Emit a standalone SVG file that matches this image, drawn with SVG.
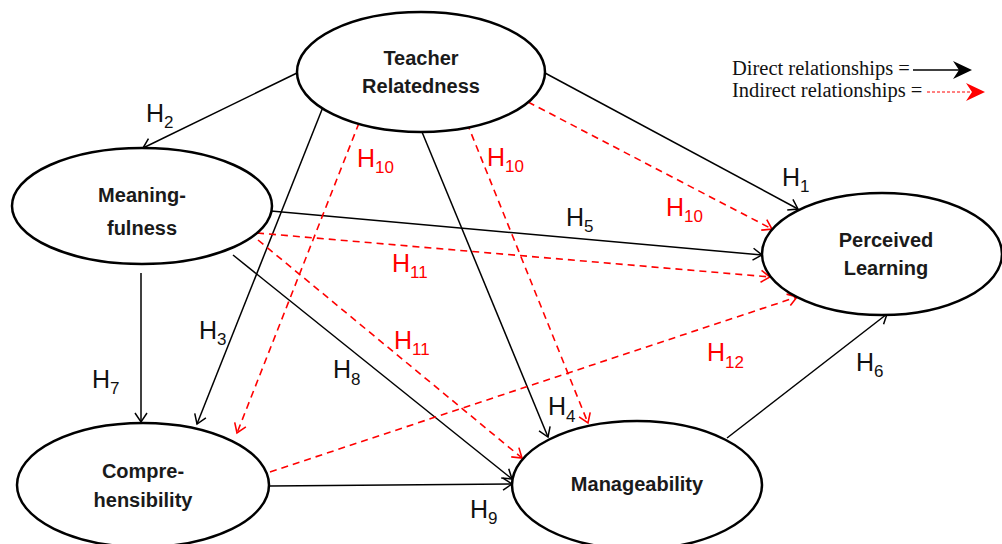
<svg xmlns="http://www.w3.org/2000/svg" width="1002" height="544" viewBox="0 0 1002 544">
<style>
.node ellipse{fill:#fff;stroke:#000;stroke-width:2.5}
.nl{font-family:"Liberation Sans",Arial,sans-serif;font-weight:bold;font-size:20px;fill:#1a1a1a;text-anchor:middle}
.d{stroke:#000;stroke-width:1.5;fill:none;marker-end:url(#ab)}
.i{stroke:#f00;stroke-width:1.6;fill:none;stroke-dasharray:7 5;marker-end:url(#ar)}
.h{font-family:"Liberation Sans",Arial,sans-serif;font-size:25px;fill:#111}
.hr{fill:#f00}
.s{font-size:17px}
.lg{font-family:"Liberation Serif","Times New Roman",serif;font-size:20.5px;fill:#111}
</style>
<defs>
<marker id="ab" markerUnits="userSpaceOnUse" markerWidth="14" markerHeight="14" viewBox="0 0 14 14" refX="11" refY="7" orient="auto">
<path d="M2,1 L11,7 L2,13" fill="none" stroke="#000" stroke-width="1.5" stroke-dasharray="none"/>
</marker>
<marker id="ar" markerUnits="userSpaceOnUse" markerWidth="14" markerHeight="14" viewBox="0 0 14 14" refX="11" refY="7" orient="auto">
<path d="M2,1 L11,7 L2,13" fill="none" stroke="#f00" stroke-width="1.6" stroke-dasharray="none"/>
</marker>
</defs>
<rect width="1002" height="544" fill="#fff"/>

<g id="connectors">
<line class="d" x1="297" y1="73" x2="143" y2="148"/>
<line class="d" x1="545" y1="73" x2="798" y2="209"/>
<line class="d" x1="271" y1="211" x2="762" y2="255"/>
<line class="d" x1="323" y1="107" x2="197" y2="424"/>
<line class="d" x1="422" y1="132" x2="548" y2="437"/>
<line class="d" x1="141" y1="273" x2="141" y2="422"/>
<line class="d" x1="233" y1="255" x2="512" y2="479"/>
<line class="d" x1="270" y1="486" x2="512" y2="484"/>
<line class="d" x1="727" y1="438" x2="887" y2="314"/>
<line class="i" x1="359" y1="123" x2="237" y2="433"/>
<line class="i" x1="467" y1="123" x2="588" y2="423"/>
<line class="i" x1="528" y1="102" x2="772" y2="229"/>
<line class="i" x1="257" y1="233" x2="770" y2="277"/>
<line class="i" x1="258" y1="240" x2="522" y2="458"/>
<line class="i" x1="270" y1="472" x2="797" y2="297"/>
</g>

<g id="node-teacher" class="node">
<ellipse cx="421" cy="72" rx="124" ry="60"/>
<text class="nl" x="421" y="65">Teacher</text>
<text class="nl" x="421" y="93">Relatedness</text>
</g>
<g id="node-meaning" class="node">
<ellipse cx="142" cy="206" rx="130" ry="58"/>
<text class="nl" x="142" y="202">Meaning-</text>
<text class="nl" x="142" y="235">fulness</text>
</g>
<g id="node-perceived" class="node">
<ellipse cx="882" cy="254" rx="120" ry="61"/>
<text class="nl" x="886" y="247">Perceived</text>
<text class="nl" x="886" y="275">Learning</text>
</g>
<g id="node-comp" class="node">
<ellipse cx="143" cy="485" rx="126" ry="62"/>
<text class="nl" x="143" y="478">Compre-</text>
<text class="nl" x="143" y="507">hensibility</text>
</g>
<g id="node-manage" class="node">
<ellipse cx="637" cy="485" rx="125" ry="64"/>
<text class="nl" x="637" y="491">Manageability</text>
</g>

<g id="labels">
<text class="h" x="146" y="122">H<tspan class="s" dy="6">2</tspan></text>
<text class="h" x="782" y="186">H<tspan class="s" dy="6">1</tspan></text>
<text class="h" x="566" y="226">H<tspan class="s" dy="6">5</tspan></text>
<text class="h" x="199" y="339">H<tspan class="s" dy="6">3</tspan></text>
<text class="h" x="333" y="378">H<tspan class="s" dy="7">8</tspan></text>
<text class="h" x="92" y="388">H<tspan class="s" dy="6">7</tspan></text>
<text class="h" x="548" y="415">H<tspan class="s" dy="7">4</tspan></text>
<text class="h" x="470" y="518">H<tspan class="s" dy="6">9</tspan></text>
<text class="h" x="856" y="371">H<tspan class="s" dy="6">6</tspan></text>
<text class="h hr" x="357" y="167">H<tspan class="s" dy="6">10</tspan></text>
<text class="h hr" x="487" y="166">H<tspan class="s" dy="6">10</tspan></text>
<text class="h hr" x="666" y="216">H<tspan class="s" dy="6">10</tspan></text>
<text class="h hr" x="392" y="272">H<tspan class="s" dy="6">11</tspan></text>
<text class="h hr" x="394" y="349">H<tspan class="s" dy="6">11</tspan></text>
<text class="h hr" x="707" y="361">H<tspan class="s" dy="7">12</tspan></text>
</g>

<g id="legend">
<text class="lg" x="732" y="75">Direct relationships =</text>
<text class="lg" x="732" y="97">Indirect relationships =</text>
<line x1="913" y1="70" x2="962" y2="70" stroke="#000" stroke-width="1.5"/>
<polygon points="972,70 953,61 959,70 953,79" fill="#000"/>
<line x1="927" y1="92" x2="975" y2="92" stroke="#f00" stroke-width="1" stroke-dasharray="3 2"/>
<polygon points="985,92 966,83 972,92 966,101" fill="#f00"/>
</g>
</svg>
